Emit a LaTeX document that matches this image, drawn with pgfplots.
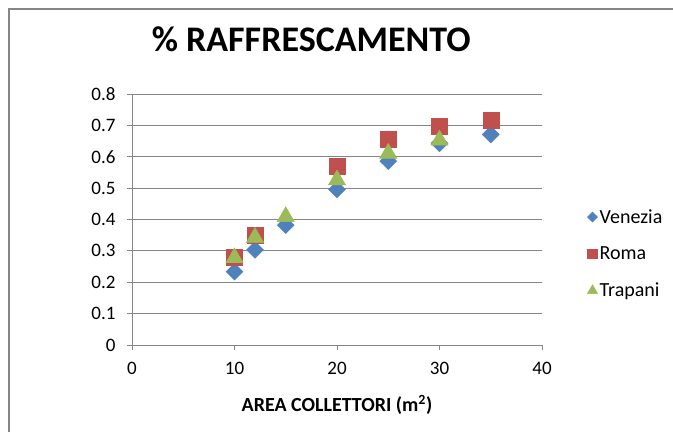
\documentclass[border=0pt]{standalone}
\usepackage{pgfplots}
\pgfplotsset{compat=1.18}
\usepackage{fontspec}
\setmainfont{Carlito}

\definecolor{venezia}{HTML}{4F81BD}
\definecolor{roma}{HTML}{C0504D}
\definecolor{trapani}{HTML}{9BBB59}
\definecolor{gridgray}{HTML}{868686}

\begin{document}
\begin{tikzpicture}
\useasboundingbox (0pt,0pt) rectangle (673pt,432pt);
% chart frame (only left and top edges visible)
\draw[gridgray, line width=1.5pt] (9pt,0pt) -- (9pt,423pt) -- (673pt,423pt);

\begin{axis}[
    at={(132pt,87pt)}, anchor=origin,
    scale only axis,
    width=410pt, height=251pt,
    xmin=0, xmax=40, ymin=0, ymax=0.8,
    xtick={0,10,20,30,40},
    ytick={0,0.1,0.2,0.3,0.4,0.5,0.6,0.7,0.8},
    /pgf/number format/assume math mode=true,
    /pgf/number format/fixed,
    /pgf/number format/precision=1,
    tick label style={font=\fontsize{19}{22}\selectfont},
    xticklabel style={yshift=-9pt},
    yticklabel style={xshift=-8pt},
    axis x line*=bottom, axis y line*=left,
    axis line style={gridgray, line width=0.8pt},
    tick style={gridgray, line width=0.8pt},
    tick align=outside, major tick length=5pt,
    ymajorgrids, grid style={gridgray, line width=0.8pt},
    title={\textbf{\% RAFFRESCAMENTO}},
    title style={font=\fontsize{36}{40}\selectfont, at={(axis description cs:0.437,1.195)}, anchor=center},
    xlabel={\textbf{AREA COLLETTORI (m\textsuperscript{2})}},
    xlabel style={font=\fontsize{20}{24}\selectfont, at={(axis description cs:0.5,-0.239)}, anchor=center},
    legend style={draw=none, fill=none, at={(axis description cs:1.11,0.363)}, anchor=west,
        font=\fontsize{20}{24}\selectfont, row sep=18pt, inner sep=0pt},
    legend cell align=left,
    legend image code/.code={\draw[#1, every mark/.append style={scale=0.6}] plot coordinates {(0.12cm,0cm)};},
    clip=false,
]
\addplot[only marks, mark=square*, mark size=6pt, color=venezia,
    mark options={rotate=45, fill=venezia, draw=venezia}]
    coordinates {(10,0.234) (12,0.303) (15,0.382) (20,0.496) (25,0.586) (30,0.643) (35,0.671)};
\addplot[only marks, mark=square*, mark size=8pt, color=roma,
    mark options={fill=roma, draw=roma}]
    coordinates {(10,0.280) (12,0.351) (20,0.571) (25,0.656) (30,0.696) (35,0.717)};
\addplot[only marks, mark=triangle*, mark size=10pt, color=trapani,
    mark options={fill=trapani, draw=trapani}]
    coordinates {(10,0.278) (12,0.343) (15,0.409) (20,0.526) (25,0.611) (30,0.653)};
\legend{Venezia, Roma, Trapani}
\end{axis}
\end{tikzpicture}
\end{document}
